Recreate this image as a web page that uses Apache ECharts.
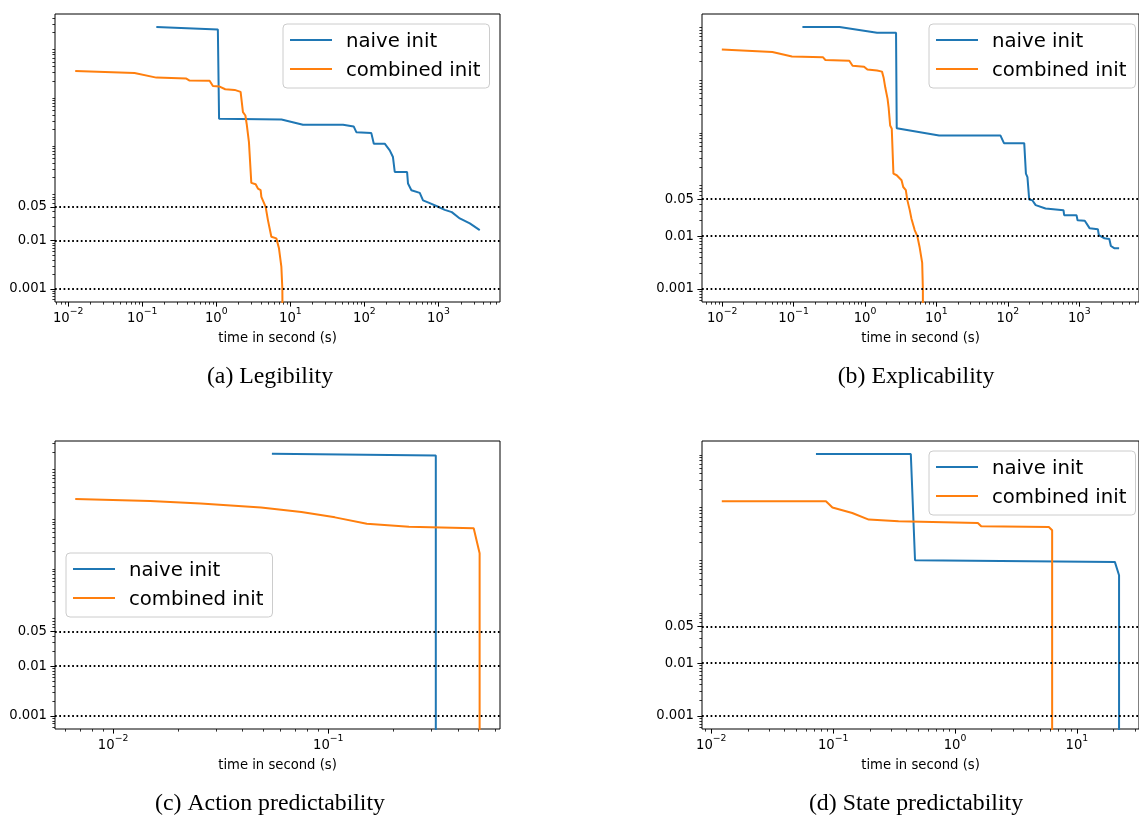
<!DOCTYPE html>
<html><head><meta charset="utf-8">
<script src="https://cdn.jsdelivr.net/npm/echarts@6/dist/echarts.min.js"></script>
<style>html,body{margin:0;padding:0;background:#fff}#c{width:1139px;height:816px}</style>
</head><body><div id="c"></div>
<script>
// ---------------- data ----------------
const seriesNames = ['naive init', 'combined init'];
const captions = ['(a) Legibility', '(b) Explicability', '(c) Action predictability', '(d) State predictability'];
const xAxisTitle = 'time in second (s)';
const hlineValues = [0.05, 0.01, 0.001];
const yTickValues = [0.001, 0.01, 0.05];
const yTickLabels = ['0.001', '0.01', '0.05'];
const ZERO = 1e-5; // curve falls to 0 (below the log axis)

// (a) Legibility  [time (s), value]
const legibilityNaive = [[0.155,261],[1.05,233],[1.09,3.31],[1.14,3.31],[7.6,3.2],[14.8,2.49],[51.5,2.49],[71.6,2.30],[77.8,1.75],[124,1.67],[134,1.01],[188,1.01],[220,0.735],[243,0.535],[257,0.262],[377,0.262],[388,0.151],[431,0.11],[559,0.097],[619,0.068],[763,0.0593],[988,0.050],[1217,0.0432],[1514,0.0387],[1940,0.0287],[2650,0.0226],[3610,0.0164]];
const legibilityCombined = [[0.01245,32.3],[0.0787,29.4],[0.155,23.5],[0.394,22.4],[0.436,20.4],[0.812,20.2],[0.9,15.8],[1.11,15.3],[1.32,13.5],[1.77,13.1],[2.13,11.9],[2.29,4.53],[2.47,3.87],[2.57,2.61],[2.76,1.09],[2.97,0.156],[3.4,0.146],[3.65,0.119],[3.97,0.11],[4.06,0.08],[4.64,0.0498],[4.98,0.0265],[5.54,0.012],[6.47,0.0111],[7.02,0.0069],[7.56,0.0029],[7.8,0.001],[7.94,ZERO]];
// (b) Explicability
const explicabilityNaive = [[0.133,90.6],[0.44,90.6],[1.475,70.6],[2.72,70.6],[2.78,1.1],[10.9,0.805],[78.6,0.805],[88.2,0.575],[169.5,0.575],[179,0.152],[188,0.131],[199,0.0492],[220,0.0477],[245,0.0385],[337,0.0333],[601,0.031],[614,0.0249],[915,0.0249],[945,0.02],[1193,0.0195],[1399,0.014],[1820,0.0135],[1877,0.0104],[2247,0.0091],[2632,0.0088],[2768,0.0065],[3083,0.0059],[3611,0.0059]];
const explicabilityCombined = [[0.0099,34.2],[0.0505,30.5],[0.095,25.2],[0.259,24.2],[0.279,21.6],[0.603,20.9],[0.67,16.8],[0.97,16.1],[1.08,14.2],[1.475,13.6],[1.73,13.0],[1.82,10.1],[1.92,6.56],[2.07,3.96],[2.14,2.75],[2.25,1.24],[2.37,1.08],[2.5,0.152],[2.78,0.142],[3.25,0.114],[3.43,0.085],[3.73,0.074],[3.9,0.049],[4.23,0.031],[4.46,0.0216],[4.96,0.013],[5.4,0.01],[5.8,0.0063],[6.32,0.0031],[6.46,0.001],[6.5,ZERO]];
// (c) Action predictability
const actionNaive = [[0.0547,186],[0.316,173],[0.316,ZERO]];
const actionCombined = [[0.00667,22.9],[0.01486,20.9],[0.0255,18.6],[0.0487,15.5],[0.075,12.6],[0.1074,9.82],[0.151,7.31],[0.237,6.37],[0.474,5.91],[0.505,1.86],[0.505,ZERO]];
// (d) State predictability
const stateNaive = [[0.0723,92.9],[0.434,92.9],[0.47,0.90],[20.5,0.836],[22.2,0.467],[22.2,ZERO]];
const stateCombined = [[0.0122,11.8],[0.0873,11.8],[0.0987,8.97],[0.1435,7.08],[0.196,5.31],[0.344,4.93],[1.54,4.58],[1.64,3.96],[5.89,3.85],[6.27,3.33],[6.27,ZERO]];

// axis ranges (log10 exponents) and major x ticks (exponents)
const xRangeExp = [[-2.178, 3.831], [-2.282, 3.836], [-2.27, -0.202], [-2.076, 1.51]];
const yRangeExp = [[-3.271, 2.687], [-3.248, 2.205], [-3.262, 2.527], [-3.248, 2.216]];
const xMajorExp = [[-2,-1,0,1,2,3], [-2,-1,0,1,2,3], [-2,-1], [-2,-1,0,1]];

// ---------------- layout ----------------
const panelData = [
  [legibilityNaive, legibilityCombined],
  [explicabilityNaive, explicabilityCombined],
  [actionNaive, actionCombined],
  [stateNaive, stateCombined]
];
const colors = ['#1f77b4', '#ff7f0e'];
const F = 'DejaVu Sans';
const gridPos = [[55, 14], [702, 14], [55, 441], [702, 441]];
const GW = 445, GH = 288;
const legendPos = [[283, 24], [929, 24], [66, 553], [929, 451]];
const captionPos = [[270, 377], [916, 377], [270, 804], [916, 804]];

function minorTicks(lo, hi) {
  const out = [];
  for (let k = Math.floor(lo); k <= Math.ceil(hi); k++) {
    for (let m = 2; m <= 9; m++) {
      const v = m * Math.pow(10, k);
      const l = Math.log10(v);
      if (l >= lo && l <= hi) out.push(v);
    }
  }
  return out;
}
function supLabel(v) {
  const e = Math.round(Math.log10(v));
  const s = e < 0 ? '\u2212' + (-e) : String(e);
  return '{b|10}{s|' + s + '}';
}
function yLabel(v) {
  let best = 0, bd = Infinity;
  yTickValues.forEach((t, i) => { const d = Math.abs(Math.log10(v) - Math.log10(t)); if (d < bd) { bd = d; best = i; } });
  return yTickLabels[best];
}

const grid = [], xAxis = [], yAxis = [], series = [], legend = [];
gridPos.forEach((p, i) => {
  grid.push({ left: p[0], top: p[1], width: GW, height: GH, show: true, borderColor: '#000', borderWidth: 1, backgroundColor: 'transparent' });
});
// main axes
for (let i = 0; i < 4; i++) {
  const xr = xRangeExp[i], yr = yRangeExp[i];
  const xMaj = xMajorExp[i].map(e => Math.pow(10, e));
  xAxis.push({
    type: 'log', logBase: 10, gridIndex: i, position: 'bottom',
    min: Math.pow(10, xr[0]), max: Math.pow(10, xr[1]),
    axisLine: { show: false, onZero: false }, splitLine: { show: false },
    axisTick: { show: true, length: 4.6, lineStyle: { color: '#000', width: 1 }, customValues: xMaj },
    axisLabel: {
      show: true, customValues: xMaj, formatter: supLabel, margin: 5,
      rich: {
        b: { fontFamily: F, fontSize: 13.2, color: '#000' },
        s: { fontFamily: F, fontSize: 9.3, color: '#000', padding: [0, 0, 15, 0] }
      }
    },
    name: xAxisTitle, nameLocation: 'middle', nameGap: 30,
    nameTextStyle: { fontFamily: F, fontSize: 13.2, color: '#000' }
  });
  yAxis.push({
    type: 'log', logBase: 10, gridIndex: i, position: 'left',
    min: Math.pow(10, yr[0]), max: Math.pow(10, yr[1]),
    axisLine: { show: false, onZero: false }, splitLine: { show: false },
    axisTick: { show: true, length: 4.6, lineStyle: { color: '#000', width: 1 }, customValues: yTickValues },
    axisLabel: { show: true, customValues: yTickValues, formatter: yLabel, margin: 8, fontFamily: F, fontSize: 13.2, color: '#000' }
  });
}
// minor tick axes
for (let i = 0; i < 4; i++) {
  const xr = xRangeExp[i], yr = yRangeExp[i];
  xAxis.push({
    type: 'log', logBase: 10, gridIndex: i, position: 'bottom',
    min: Math.pow(10, xr[0]), max: Math.pow(10, xr[1]),
    axisLine: { show: false, onZero: false }, splitLine: { show: false }, axisLabel: { show: false },
    axisTick: { show: true, length: 2.6, lineStyle: { color: '#000', width: 0.8 }, customValues: minorTicks(xr[0], xr[1]) }
  });
  yAxis.push({
    type: 'log', logBase: 10, gridIndex: i, position: 'left',
    min: Math.pow(10, yr[0]), max: Math.pow(10, yr[1]),
    axisLine: { show: false, onZero: false }, splitLine: { show: false }, axisLabel: { show: false },
    axisTick: { show: true, length: 2.6, lineStyle: { color: '#000', width: 0.8 }, customValues: minorTicks(yr[0], yr[1]) }
  });
}
panelData.forEach((pair, i) => {
  pair.forEach((data, j) => {
    const s = {
      type: 'line', name: seriesNames[j], xAxisIndex: i, yAxisIndex: i, data: data,
      symbol: 'none', showSymbol: false, clip: true,
      lineStyle: { color: colors[j], width: 2 }, itemStyle: { color: colors[j] },
      emphasis: { disabled: true }, z: 3 + j
    };
    if (j === 0) {
      s.markLine = {
        silent: true, symbol: ['none', 'none'], label: { show: false }, precision: 8,
        lineStyle: { color: '#000', type: [1.7, 2.6], width: 1.8, cap: 'butt' },
        emphasis: { disabled: true },
        data: hlineValues.map(v => ({ yAxis: v }))
      };
    }
    series.push(s);
  });
  legend.push({
    orient: 'vertical', left: legendPos[i][0], top: legendPos[i][1],
    data: seriesNames, icon: 'rect', itemWidth: 42, itemHeight: 2, itemGap: 5,
    padding: [4, 9, 7, 7], selectedMode: false,
    backgroundColor: 'rgba(255,255,255,0.8)', borderColor: '#cccccc', borderWidth: 1, borderRadius: 4,
    formatter: '{t|{name}}',
    textStyle: {
      fontFamily: F, fontSize: 19.7, color: '#000',
      rich: { t: { fontFamily: F, fontSize: 19.7, color: '#000', lineHeight: 22, padding: [4, 0, 0, 9] } }
    }
  });
});

const graphic = captions.map((t, i) => ({
  type: 'text', x: captionPos[i][0], y: captionPos[i][1], silent: true,
  style: { text: t, font: '23.8px "Liberation Serif"', fill: '#000', align: 'center', verticalAlign: 'middle' }
}));

const chart = echarts.init(document.getElementById('c'));
chart.setOption({ animation: false, backgroundColor: '#fff', grid, xAxis, yAxis, series, legend, graphic });
</script>
</body></html>
